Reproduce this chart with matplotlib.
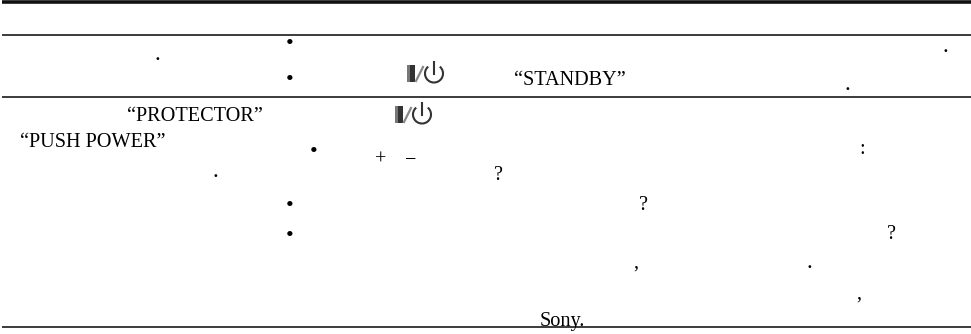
import matplotlib
matplotlib.use("Agg")
import matplotlib.pyplot as plt
from matplotlib.patches import Arc, Rectangle

plt.rcParams["font.family"] = ["Liberation Serif", "DejaVu Serif"]

# text left in the page, everything else on the scan is blank
labels = ['“STANDBY”', '“PROTECTOR”', '“PUSH POWER”', 'Sony.', '+', '−', ':', '?', '?', '?',
          ',', ',', '.', '.', '.', '.', '.']
label_x = [514, 127, 20, 540, 375, 405, 859, 494, 639, 887, 633, 856, 155, 212, 943, 844, 807]
label_y = [85, 121, 147, 326, 165, 165, 154, 180, 210, 239, 268, 299, 60, 177, 52, 90, 268]

bullet_x = [289.5, 289.5, 313.5, 289.5, 289.5]
bullet_y = [45, 81, 153, 207, 236]

rule_y = [2, 35, 97, 327]
rule_w = [3.6, 1.6, 1.6, 1.6]

icon_x = [407, 395]
icon_y = [73, 114]

fig = plt.figure(figsize=(9.71, 3.34), dpi=100)
ax = fig.add_axes([0, 0, 1, 1])
ax.set_xlim(0, 971)
ax.set_ylim(334, 0)
ax.axis("off")


def power_icon(x, y):
    # bar, slash, then the circle with its tick
    ax.add_patch(Rectangle((x, y - 8), 4, 17, fc="#777777", ec="none"))
    ax.add_patch(Rectangle((x + 3, y - 8), 5, 17, fc="#333333", ec="none"))
    ax.plot([x + 9, x + 16], [y + 8, y - 6], color="#888888", lw=1.6)
    ax.add_patch(Arc((x + 27, y + 0.5), 18, 18, theta1=-50, theta2=230, color="#333333", lw=1.5))
    ax.plot([x + 27, x + 27], [y - 11, y + 1], color="#333333", lw=1.5)


for y, w in zip(rule_y, rule_w):
    ax.plot([2, 971], [y, y], color="#111111", lw=w * 0.72, solid_capstyle="butt")

for t, x, y in zip(labels, label_x, label_y):
    # the single dots look heavier on the scan
    ax.text(x, y, t, fontsize=14.6 if t != "." else 17, color="black", ha="left", va="baseline")

for x, y in zip(bullet_x, bullet_y):
    ax.text(x, y, "•", fontsize=16, color="black", ha="center", va="center")

for x, y in zip(icon_x, icon_y):
    power_icon(x, y)

fig.savefig("out.png", dpi=100)
